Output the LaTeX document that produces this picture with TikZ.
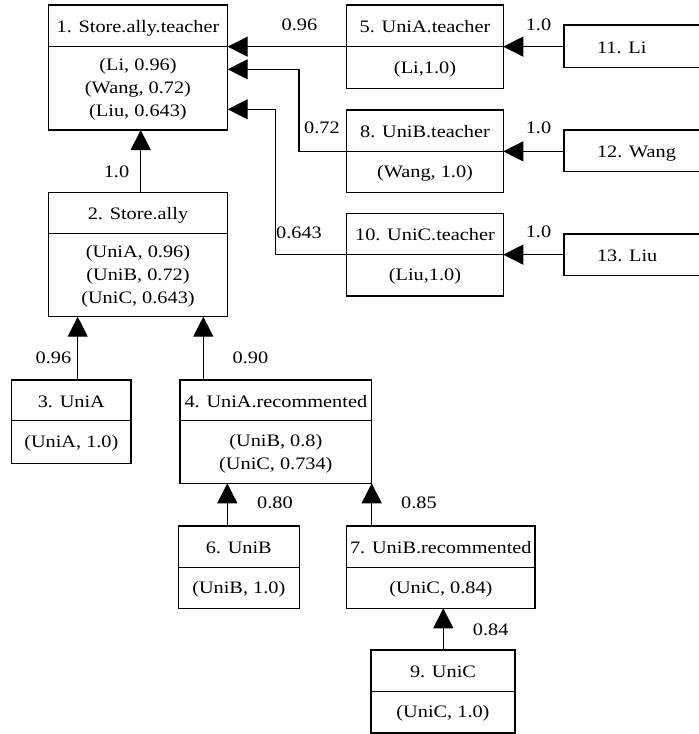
\documentclass[tikz,border=0pt]{standalone}
\usepackage{fontspec}
\setmainfont{Liberation Serif}[FakeStretch=1.16]
\usetikzlibrary{arrows.meta}
\tikzset{
  boxframe/.style={draw, line width=1.2pt, inner sep=0pt, outer sep=0pt},
  txt/.style={font=\fontsize{17.5}{23}\selectfont, inner sep=0pt, outer sep=0pt},
  arr/.style={line width=1.2pt, -{Triangle[length=20pt 0 1,width=20pt 0 1]}},
  wire/.style={line width=1.2pt}
}
% name, x1, y1, x2, yh, y2, title, body
\newcommand\umlbox[8]{%
  \node[boxframe, minimum width={(#4-#2)*1pt}, minimum height={(#6-#3)*1pt}]
    (#1) at ({(#2+#4)/2},{(#3+#6)/2}) {};
  \draw[wire] (#2,#5) -- (#4,#5);
  \node[txt, anchor=base] (#1t) at ({(#2+#4)/2},{(#3+#5)/2+6.9}) {#7};
  \node[txt, align=center] (#1b) at ({(#2+#4)/2},{(#5+#6)/2+1.4}) {#8};
}
% name, x1, y1, y2, text
\newcommand\leafbox[5]{%
  \draw[wire] (714,#3) -- (#2,#3) -- (#2,#4) -- (714,#4);
  \coordinate (#1) at (#2,{(#3+#4)/2});
  \node[txt, anchor=base west] (#1t) at (597,{(#3+#4)/2+6.9}) {#5};
}
\begin{document}
\begin{tikzpicture}[x=1pt,y=-1pt]
\useasboundingbox (0,0) rectangle (699,734);

\umlbox{b1}{48.3}{5}{227.7}{46.7}{130}{1. Store.ally.teacher}{(Li, 0.96)\\(Wang, 0.72)\\(Liu, 0.643)}
\umlbox{b2}{48.3}{192.7}{227.7}{233.3}{316.7}{2. Store.ally}{(UniA, 0.96)\\(UniB, 0.72)\\(UniC, 0.643)}
\umlbox{b3}{11.7}{380}{131}{420.7}{463.3}{3. UniA}{(UniA, 1.0)}
\umlbox{b4}{180}{380}{371.7}{420.7}{483.3}{4. UniA.recommented}{(UniB, 0.8)\\(UniC, 0.734)}
\umlbox{b5}{346.7}{5}{503.3}{46.7}{88.3}{5. UniA.teacher}{(Li,1.0)}
\umlbox{b6}{178.3}{526}{299.3}{567.3}{608.3}{6. UniB}{(UniB, 1.0)}
\umlbox{b7}{346.7}{526}{535}{567.5}{608.3}{7. UniB.recommented}{(UniC, 0.84)}
\umlbox{b8}{346.7}{110}{503.3}{151.3}{192.7}{8. UniB.teacher}{(Wang, 1.0)}
\umlbox{b9}{371}{650}{515}{691.7}{733}{9. UniC}{(UniC, 1.0)}
\umlbox{b10}{346.7}{213.3}{503.3}{254.7}{296}{10. UniC.teacher}{(Liu,1.0)}

\leafbox{b11}{564}{25}{67.3}{11. Li}
\leafbox{b12}{564}{130}{171.7}{12. Wang}
\leafbox{b13}{564}{234}{275.7}{13. Liu}

% helper coordinates
\coordinate (k8) at (299,0);
\coordinate (k10) at (275.7,0);
\coordinate (t8) at (0,69.3);
\coordinate (t10) at (0,109.3);
\coordinate (x12) at (140.7,0);
\coordinate (x32) at (77.7,0);
\coordinate (x42) at (203.3,0);
\coordinate (x64) at (227.3,0);
\coordinate (x74) at (371.7,0);
\coordinate (x97) at (443.3,0);

% connectors
\draw[arr] (b5.west) -- (b1.east |- b5.west);
\draw[arr] (b8.west) -- (k8 |- b8.west) -- (k8 |- t8) -- (b1.east |- t8);
\draw[arr] (b10.west) -- (k10 |- b10.west) -- (k10 |- t10) -- (b1.east |- t10);
\draw[arr] (b11 |- b5.east) -- (b5.east);
\draw[arr] (b12 |- b8.east) -- (b8.east);
\draw[arr] (b13 |- b10.east) -- (b10.east);
\draw[arr] (x12 |- b2.north) -- (x12 |- b1.south);
\draw[arr] (x32 |- b3.north) -- (x32 |- b2.south);
\draw[arr] (x42 |- b4.north) -- (x42 |- b2.south);
\draw[arr] (x64 |- b6.north) -- (x64 |- b4.south);
\draw[arr] (x74 |- b7.north) -- (x74 |- b4.south);
\draw[arr] (x97 |- b9.north) -- (x97 |- b7.south);

% edge labels
\node[txt] (l51) at (299.5,25) {0.96};
\node[txt] (l81) at (322,128) {0.72};
\node[txt] (l101) at (299,233) {0.643};
\node[txt] (l21) at (116.5,172) {1.0};
\node[txt] (l115) at (538.5,25) {1.0};
\node[txt] (l128) at (538.5,128) {1.0};
\node[txt] (l1310) at (538.5,232) {1.0};
\node[txt] (l32) at (53.5,358) {0.96};
\node[txt] (l42) at (250.5,358) {0.90};
\node[txt] (l64) at (275,503) {0.80};
\node[txt] (l74) at (419,503) {0.85};
\node[txt] (l97) at (490.7,630) {0.84};
\end{tikzpicture}
\end{document}
